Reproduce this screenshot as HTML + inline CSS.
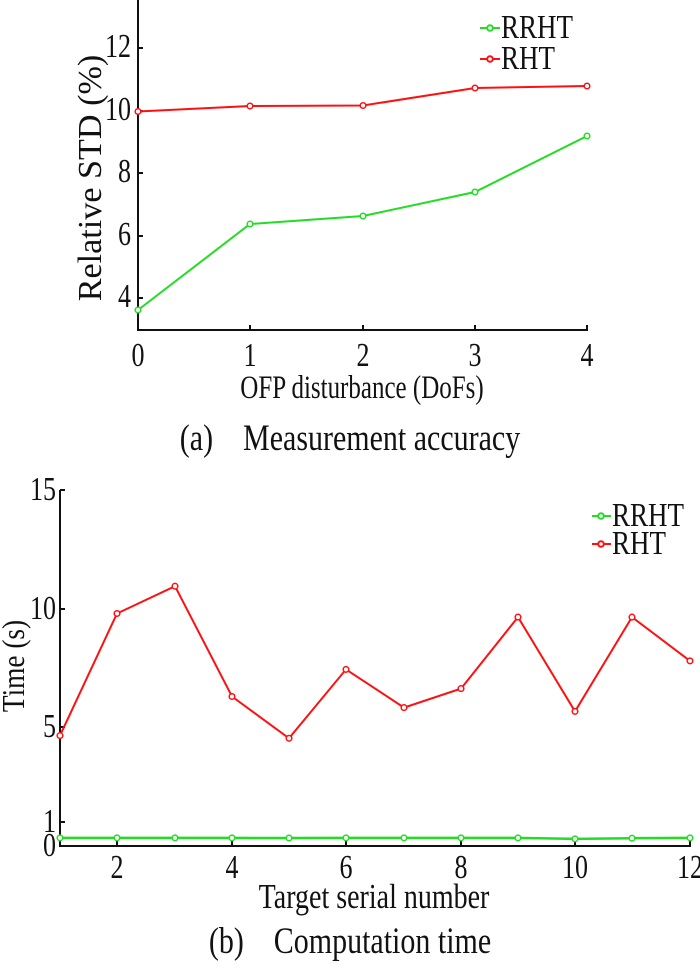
<!DOCTYPE html>
<html><head><meta charset="utf-8"><style>
body{margin:0;background:#fff}
svg{display:block}
text{font-family:"Liberation Serif",serif;fill:#111}
</style></head><body>
<svg width="700" height="969" viewBox="0 0 700 969" xmlns="http://www.w3.org/2000/svg">
<!-- Top chart -->
<g stroke="#111" stroke-width="2" fill="none">
<path d="M138,0 V330 H588"/>
<path d="M138,48 h5 M138,111 h5 M138,173 h5 M138,236 h5 M138,298 h5"/>
<path d="M250,330 v-5 M363,330 v-5 M475,330 v-5 M587,330 v-5"/>
</g>
<g font-size="26" text-anchor="end">
<text transform="translate(131,57) scale(1,1.3)">12</text>
<text transform="translate(131,120) scale(1,1.3)">10</text>
<text transform="translate(131,182) scale(1,1.3)">8</text>
<text transform="translate(131,245) scale(1,1.3)">6</text>
<text transform="translate(131,307) scale(1,1.3)">4</text>
</g>
<g font-size="26" text-anchor="middle">
<text transform="translate(138,366) scale(1,1.3)">0</text>
<text transform="translate(250,366) scale(1,1.3)">1</text>
<text transform="translate(363,366) scale(1,1.3)">2</text>
<text transform="translate(475,366) scale(1,1.3)">3</text>
<text transform="translate(587,366) scale(1,1.3)">4</text>
<text transform="translate(362,398) scale(1,1.3)" font-size="25">OFP disturbance (DoFs)</text>
<text transform="translate(350,450) scale(1,1.25)" font-size="30" xml:space="preserve">(a)    Measurement accuracy</text>
<text transform="translate(101,178) rotate(-90) scale(1.22,1.2)" font-size="28">Relative STD (%)</text>
</g>
<g fill="none" stroke-width="2">
<polyline stroke="#ff1010" points="138,111.5 250,106 363,105.5 475,88 587,86"/>
<polyline stroke="#22dd22" points="138,310 250,224 363,216 475,192 587,136"/>
</g>
<g fill="#fff" stroke-width="1.5">
<g stroke="#ff1010"><circle cx="138" cy="111.5" r="2.8"/><circle cx="250" cy="106" r="2.8"/><circle cx="363" cy="105.5" r="2.8"/><circle cx="475" cy="88" r="2.8"/><circle cx="587" cy="86" r="2.8"/></g>
<g stroke="#22dd22"><circle cx="138" cy="310" r="2.8"/><circle cx="250" cy="224" r="2.8"/><circle cx="363" cy="216" r="2.8"/><circle cx="475" cy="192" r="2.8"/><circle cx="587" cy="136" r="2.8"/></g>
</g>
<g stroke-width="2">
<line x1="480" y1="28" x2="500" y2="28" stroke="#22dd22"/><circle cx="490" cy="28" r="2.8" fill="#fff" stroke="#22dd22"/>
<line x1="480" y1="59" x2="500" y2="59" stroke="#ff1010"/><circle cx="490" cy="59" r="2.8" fill="#fff" stroke="#ff1010"/>
</g>
<text transform="translate(501,38) scale(1,1.25)" font-size="27">RRHT</text>
<text transform="translate(501,69) scale(1,1.25)" font-size="27">RHT</text>

<!-- Bottom chart -->
<g stroke="#111" stroke-width="2" fill="none">
<path d="M60,490 V846 H691"/>
<path d="M60,490 h5 M60,609 h5 M60,727 h5 M60,822 h5"/>
<path d="M117,846 v-5 M232,846 v-5 M346,846 v-5 M461,846 v-5 M575,846 v-5 M690,846 v-5"/>
</g>
<g font-size="26" text-anchor="end">
<text transform="translate(56,500) scale(1,1.3)">15</text>
<text transform="translate(56,619) scale(1,1.3)">10</text>
<text transform="translate(56,737) scale(1,1.3)">5</text>
<text transform="translate(56,832) scale(1,1.3)">1</text>
<text transform="translate(56,856) scale(1,1.3)">0</text>
</g>
<g font-size="26" text-anchor="middle">
<text transform="translate(117,878) scale(1,1.3)">2</text>
<text transform="translate(232,878) scale(1,1.3)">4</text>
<text transform="translate(346,878) scale(1,1.3)">6</text>
<text transform="translate(461,878) scale(1,1.3)">8</text>
<text transform="translate(575,878) scale(1,1.3)">10</text>
<text transform="translate(690,878) scale(1,1.3)">12</text>
<text transform="translate(374,908) scale(1,1.25)" font-size="28">Target serial number</text>
<text transform="translate(350,953) scale(1,1.25)" font-size="30" xml:space="preserve">(b)    Computation time</text>
<text transform="translate(24,666) rotate(-90) scale(1.05,1.2)" font-size="26">Time (s)</text>
</g>
<polyline fill="none" stroke="#ff1010" stroke-width="2" points="60,735.6 117,613.5 175,586.2 232,696.5 289,738.3 346,669.4 404,707.6 461,688.6 518,617.1 575,711.4 632,617.1 690,660.9"/>
<polyline fill="none" stroke="#22dd22" stroke-width="2.5" points="60,837.9 117,837.9 175,837.9 232,837.9 289,838 346,837.9 404,837.9 461,837.9 518,837.9 575,838.9 632,838.2 690,837.9"/>
<g fill="#fff" stroke-width="1.5" stroke="#ff1010">
<circle cx="60" cy="735.6" r="2.8"/><circle cx="117" cy="613.5" r="2.8"/><circle cx="175" cy="586.2" r="2.8"/><circle cx="232" cy="696.5" r="2.8"/><circle cx="289" cy="738.3" r="2.8"/><circle cx="346" cy="669.4" r="2.8"/><circle cx="404" cy="707.6" r="2.8"/><circle cx="461" cy="688.6" r="2.8"/><circle cx="518" cy="617.1" r="2.8"/><circle cx="575" cy="711.4" r="2.8"/><circle cx="632" cy="617.1" r="2.8"/><circle cx="690" cy="660.9" r="2.8"/>
</g>
<g fill="#fff" stroke-width="1.5" stroke="#22dd22">
<circle cx="60" cy="837.9" r="2.8"/><circle cx="117" cy="837.9" r="2.8"/><circle cx="175" cy="837.9" r="2.8"/><circle cx="232" cy="837.9" r="2.8"/><circle cx="289" cy="838" r="2.8"/><circle cx="346" cy="837.9" r="2.8"/><circle cx="404" cy="837.9" r="2.8"/><circle cx="461" cy="837.9" r="2.8"/><circle cx="518" cy="837.9" r="2.8"/><circle cx="575" cy="838.9" r="2.8"/><circle cx="632" cy="838.2" r="2.8"/><circle cx="690" cy="837.9" r="2.8"/>
</g>
<g stroke-width="2">
<line x1="592" y1="516" x2="611" y2="516" stroke="#22dd22"/><circle cx="601" cy="516" r="2.8" fill="#fff" stroke="#22dd22"/>
<line x1="592" y1="544" x2="611" y2="544" stroke="#ff1010"/><circle cx="601" cy="544" r="2.8" fill="#fff" stroke="#ff1010"/>
</g>
<text transform="translate(612,526) scale(1,1.25)" font-size="27">RRHT</text>
<text transform="translate(612,554) scale(1,1.25)" font-size="27">RHT</text>
</svg>
</body></html>
